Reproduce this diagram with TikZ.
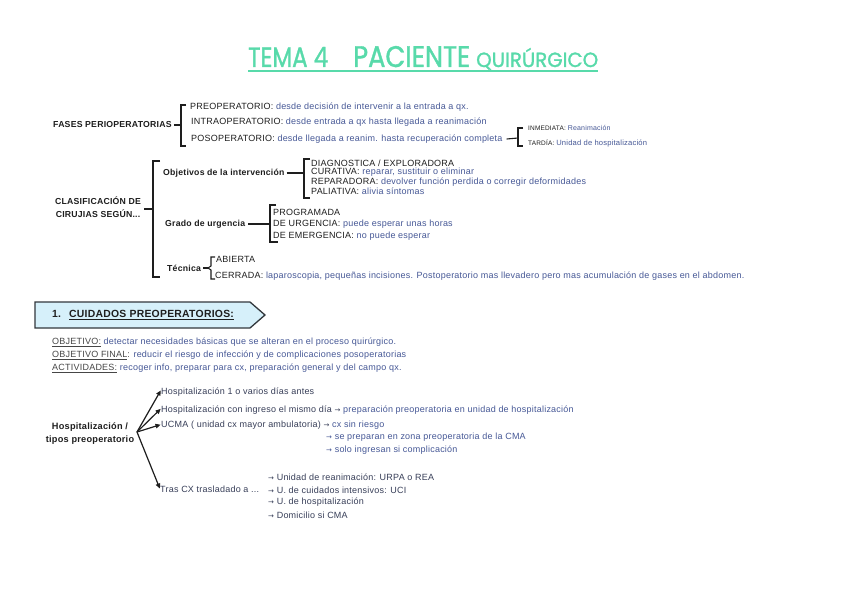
\documentclass[tikz,border=0pt]{standalone}
\usepackage{fontspec}
\usepackage{graphicx}
\setmainfont{Liberation Sans}[LetterSpace=2.5]
\newfontfamily\titlefont{Poppins}[FakeBold=1.3]
\newfontfamily\symfont{DejaVu Sans}
\usetikzlibrary{arrows.meta}
\definecolor{mint}{RGB}{88,218,170}
\definecolor{txt}{RGB}{30,30,30}
\definecolor{txtb}{RGB}{55,62,88}
\definecolor{desc}{RGB}{70,88,150}
\definecolor{lab}{RGB}{70,70,70}
\definecolor{hdrfill}{RGB}{214,240,250}
\definecolor{hdrline}{RGB}{50,55,60}
\newcommand\dsc[1]{\textcolor{desc}{#1}}
\newcommand\myarr{{\symfont\fontsize{7}{7}\selectfont →}}
\tikzset{
  base/.style={inner sep=0pt, anchor=west, font=\fontsize{9}{10}\selectfont, text=txt},
  lbl/.style={inner sep=0pt, anchor=west, font=\fontsize{8.7}{12.5}\selectfont\bfseries, text=txt},
  small/.style={inner sep=0pt, anchor=west, font=\fontsize{6.5}{7}\selectfont, text=txt},
  brk/.style={line width=1.1pt, draw=txt},
  arr/.style={line width=1.2pt, draw=txt, -{Triangle[length=5pt,width=4.5pt]}, shorten >=0.5pt},
}
\begin{document}
\begin{tikzpicture}[x=1pt,y=-1pt]
\useasboundingbox (0,0) rectangle (848,599);
\fill[white] (0,0) rectangle (848,599);

% ---------- title ----------
\node[anchor=base west, inner sep=0pt, text=mint] (tema) at (248,67) {\titlefont\resizebox{80pt}{20pt}{TEMA 4}};
\node[anchor=base west, inner sep=0pt, text=mint] (pac) at (353,67) {\titlefont\resizebox{117pt}{21pt}{PACIENTE}};
\node[anchor=base west, inner sep=0pt, text=mint] (quir) at (476,67) {\titlefont\resizebox{122pt}{19pt}{QUIRÚRGICO}};
\draw[mint, line width=1.6pt] (tema.south west |- 0,71) -- (quir.south east |- 0,71);

% ---------- fases perioperatorias ----------
\node[lbl] (fases) at (53,125) {FASES PERIOPERATORIAS};
\node[base] (pre) at (190,107) {PREOPERATORIO: \dsc{desde decisión de intervenir a la entrada a qx.}};
\node[base] (intra) at (191,122) {INTRAOPERATORIO: \dsc{desde entrada a qx hasta llegada a reanimación}};
\node[base] (pos) at (191,139) {POSOPERATORIO: \dsc{desde llegada a reanim. hasta recuperación completa}};
\coordinate (fb) at (181,125);
\draw[brk] ([xshift=2pt]fases.east) -- (fb);
\draw[brk] (186,105) -- (181,105) -- (181,146) -- (186,146);

\coordinate (pb) at (518,138);
\draw[brk] ([xshift=4pt]pos.east) -- (pb);
\draw[brk] (523,128) -- (518,128) -- (518,146) -- (523,146);
\node[small] (inm) at (528,128) {INMEDIATA: \dsc{\fontsize{7}{7}\selectfont Reanimación}};
\node[small] (tar) at (528,143) {TARDÍA: \dsc{\fontsize{7.6}{7}\selectfont Unidad de hospitalización}};

% ---------- clasificacion ----------
\node[lbl, anchor=center, align=center] (clas) at (98,207) {CLASIFICACIÓN DE\\CIRUJIAS SEGÚN...};
\coordinate (cb) at (153,209);
\draw[brk] ([xshift=3pt]clas.east |- cb) -- (cb);
\draw[brk] (160,161) -- (153,161) -- (153,277) -- (160,277);

\node[lbl] (obj) at (163,173) {Objetivos de la intervención};
\coordinate (ob) at (304,173);
\draw[brk] ([xshift=2pt]obj.east) -- (ob);
\draw[brk] (310,159) -- (304,159) -- (304,198) -- (310,198);
\node[base] (diag) at (311,163) {DIAGNOSTICA / EXPLORADORA};
\node[base] (cur) at (311,172.5) {CURATIVA: \dsc{reparar, sustituir o eliminar}};
\node[base] (rep) at (311,182) {REPARADORA: \dsc{devolver función perdida o corregir deformidades}};
\node[base] (pal) at (311,191.5) {PALIATIVA: \dsc{alivia síntomas}};

\node[lbl] (grado) at (165,224) {Grado de urgencia};
\coordinate (gb) at (270,224);
\draw[brk] ([xshift=3pt]grado.east) -- (gb);
\draw[brk] (276,205) -- (270,205) -- (270,242) -- (278,242);
\node[base] (prog) at (273,212) {PROGRAMADA};
\node[base] (urg) at (273,224) {DE URGENCIA: \dsc{puede esperar unas horas}};
\node[base] (emer) at (273,236) {DE EMERGENCIA: \dsc{no puede esperar}};

\node[lbl] (tec) at (167,268) {Técnica};
\coordinate (tb) at (208,268);
\draw[brk] ([xshift=2pt]tec.east) -- (tb);
\draw[brk] (215,257) -- (211,257) -- (211,266) -- (tb) -- (211,270) -- (211,279) -- (215,279);
\node[base] (abi) at (216,259) {ABIERTA};
\node[base] (cer) at (215,276) {CERRADA: \dsc{laparoscopia, pequeñas incisiones. Postoperatorio mas llevadero pero mas acumulación de gases en el abdomen.}};

% ---------- cuidados preoperatorios ----------
\draw[fill=hdrfill, draw=hdrline, line width=1.3pt] (35,302) -- (250,302) -- (265,315) -- (250,328) -- (35,328) -- cycle;
\node[inner sep=0pt, anchor=west, font=\fontsize{10.4}{11}\selectfont\bfseries, text=txt] (hdr) at (52,315) {1.\hspace{8pt}\underline{CUIDADOS PREOPERATORIOS:}};

\node[base, text=lab] (ob1) at (52,342) {\underline{OBJETIVO:} \dsc{detectar necesidades básicas que se alteran en el proceso quirúrgico.}};
\node[base, text=lab] (ob2) at (52,355) {\underline{OBJETIVO FINAL}: \dsc{reducir el riesgo de infección y de complicaciones posoperatorias}};
\node[base, text=lab] (ob3) at (52,368) {\underline{ACTIVIDADES:} \dsc{recoger info, preparar para cx, preparación general y del campo qx.}};

% ---------- hospitalizacion ----------
\node[lbl, anchor=center, align=center, font=\fontsize{9.2}{13}\selectfont\bfseries] (hosp) at (90,434) {Hospitalización /\\tipos preoperatorio};
\node[base, text=txtb] (h1) at (161,392) {Hospitalización 1 o varios días antes};
\node[base, text=txtb] (h2) at (161,410) {Hospitalización con ingreso el mismo día \myarr{} \dsc{preparación preoperatoria en unidad de hospitalización}};
\node[base, text=txtb] (h3) at (161,425) {UCMA ( unidad cx mayor ambulatoria) \myarr{} \dsc{cx sin riesgo}};
\node[base, text=desc] (h3b) at (326,437) {\myarr{} se preparan en zona preoperatoria de la CMA};
\node[base, text=desc] (h3c) at (326,450) {\myarr{} solo ingresan si complicación};
\node[base, text=txtb] (h4) at (160,489) {Tras CX trasladado a ...};
\node[base, text=txtb] (u1) at (268,477) {\myarr{} Unidad de reanimación: URPA o REA};
\node[base, text=txtb] (u2) at (268,490) {\myarr{} U. de cuidados intensivos: UCI};
\node[base, text=txtb] (u3) at (268,502) {\myarr{} U. de hospitalización};
\node[base, text=txtb] (u4) at (268,515) {\myarr{} Domicilio si CMA};

\coordinate (ho) at (137,432);
\draw[arr] (ho) -- ([yshift=2pt]h1.west);
\draw[arr] (ho) -- ([yshift=1.5pt]h2.west);
\draw[arr] (ho) -- ([yshift=0.5pt]h3.west);
\draw[arr] (ho) -- (h4.west);
\end{tikzpicture}
\end{document}
